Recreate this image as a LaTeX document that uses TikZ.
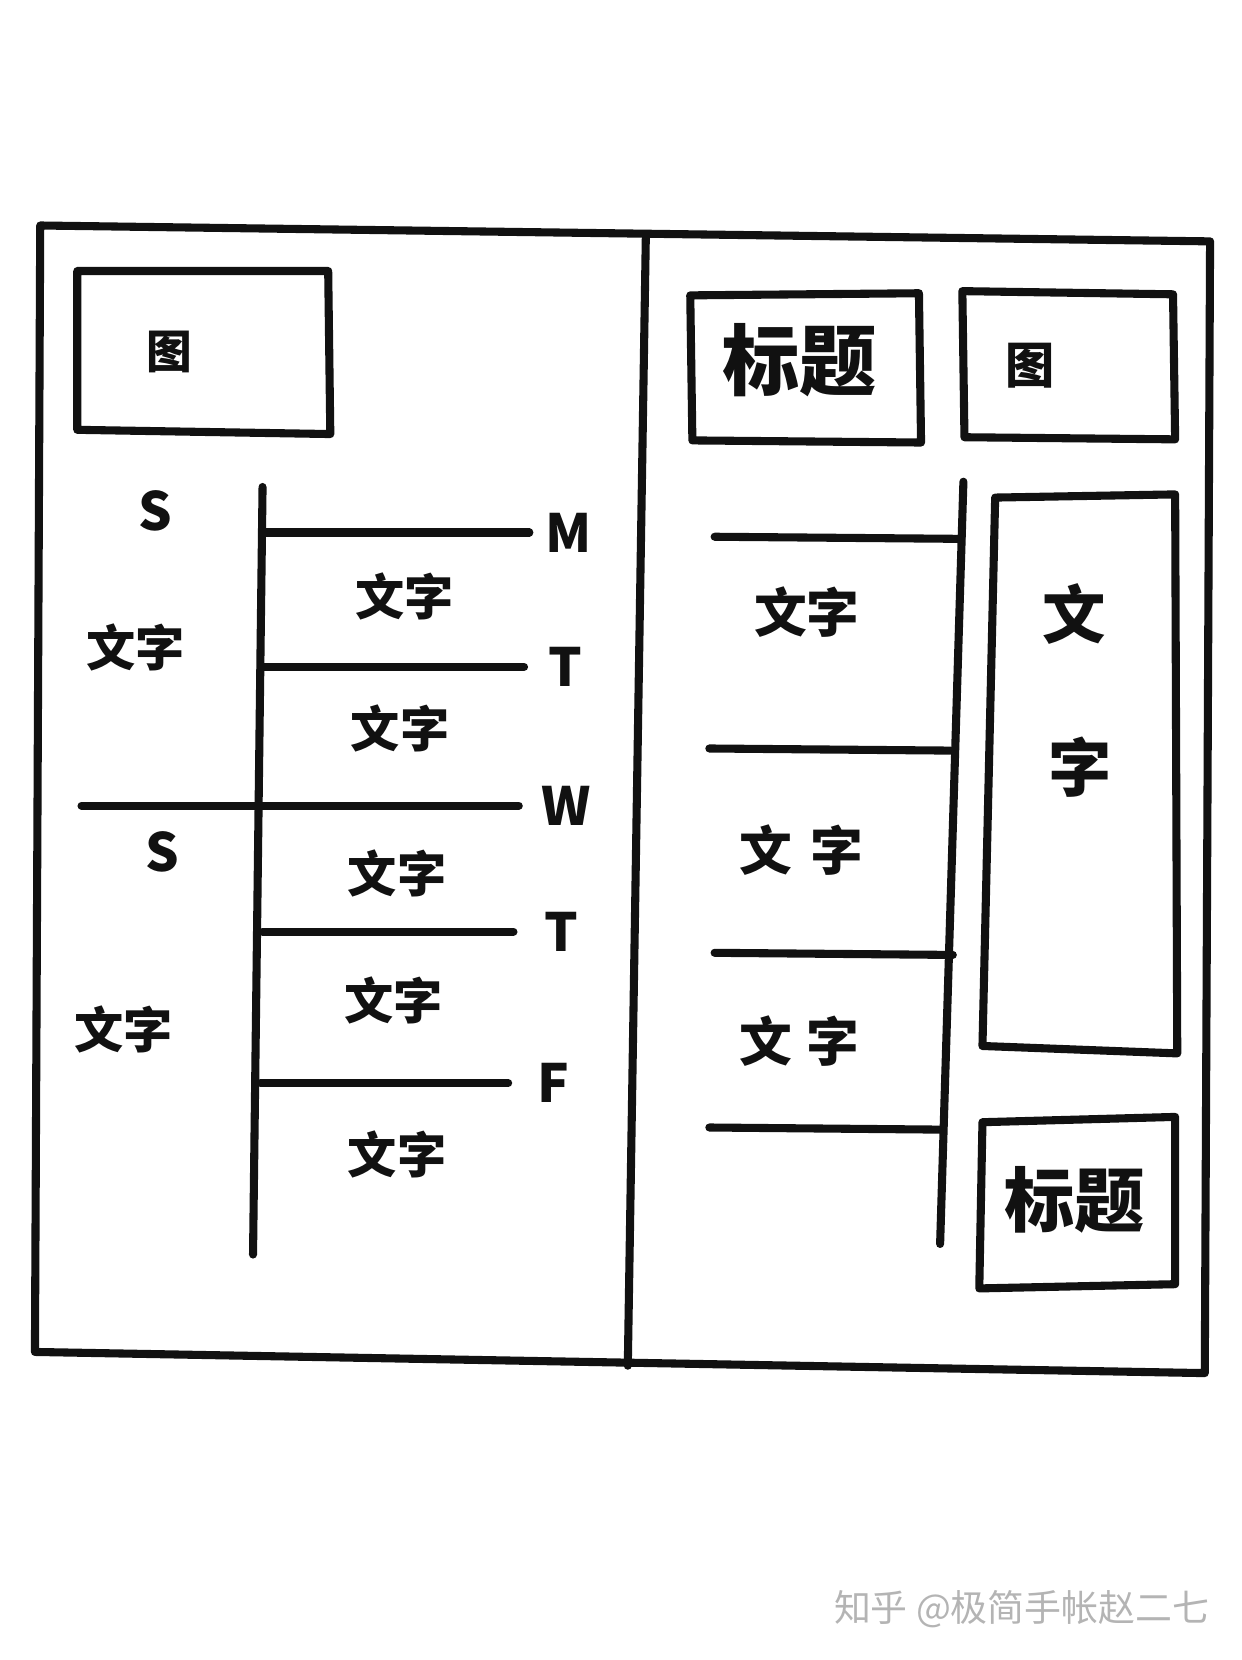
\documentclass[tikz,border=0pt]{standalone}
\usepackage{fontspec}
\newfontfamily\cjk{Noto Sans CJK SC}
\usepackage{xcolor}
\usetikzlibrary{positioning}
\definecolor{cInk}{HTML}{111111}
\definecolor{cMark}{HTML}{B4B4B4}
\tikzset{
  ink/.style={draw=cInk,line width=2.3pt,line cap=round,line join=round},
  zh/.style={font=\cjk\bfseries\fontsize{#1}{#1}\selectfont,text=cInk,inner sep=0pt},
  zh/.default=14pt,
  day/.style={font=\cjk\bfseries\fontsize{15pt}{15pt}\selectfont,text=cInk,inner sep=0pt},
}
\begin{document}
\begin{tikzpicture}[x=0.01059cm,y=-0.01059cm]
  \useasboundingbox (0,0) rectangle (1173,1568);
  % page frame and fold
  \draw[ink] (38,213) -- (1143,228) -- (1138,1297) -- (33,1277) -- cycle;
  \draw[ink] (610,225) -- (593,1290);
  % left page
  \draw[ink] (73,256) -- (310,256) -- (312,410) -- (73,406) -- cycle;
  \node[zh=13pt] (picL) at (160,332) {图};
  \coordinate (spL1) at (248,460);
  \coordinate (spL2) at (239,1185);
  \draw[ink] (spL1) -- (spL2);
  \foreach \y/\xa/\xb/\xd/\d/\i in {503/250/500/537/M/1,630/250/495/534/T/2,761/77/490/535/W/3,880/248/485/530/T/4,1023/246/480/523/F/5}{
    \coordinate (l\i) at (\xa,\y);
    \coordinate (r\i) at (\xb,\y);
    \draw[ink] (l\i) -- (r\i);
    \node[day] (d\i) at (\xd,\y) {\d};}
  \foreach \x/\y/\i in {382/563/1,378/688/2,375/825/3,372/945/4,375/1090/5}
    \node[zh=14pt] (t\i) at (\x,\y) {文字};
  \node[day] (s1) at (147,483) {S};
  \node[day] (s2) at (153,805) {S};
  \node[zh=14pt] (w1) at (128,612) {文字};
  \node[zh=14pt] (w2) at (117,972) {文字};
  % right page
  \draw[ink] (652,279) -- (868,277) -- (870,418) -- (654,416) -- cycle;
  \node[zh=22pt] (headA) at (755,340) {标题};
  \draw[ink] (909,275) -- (1108,278) -- (1110,415) -- (911,413) -- cycle;
  \node[zh=14pt] (picR) at (973,345) {图};
  \coordinate (spR1) at (910,455);
  \coordinate (spR2) at (888,1175);
  \draw[ink] (spR1) -- (spR2);
  \foreach \y/\xa/\xb/\i in {507/675/908/1,707/670/898/2,900/675/900/3,1065/670/888/4}
    \draw[ink] (\xa,\y) -- (\xb,\y+2);
  \node[zh=15pt] (n1) at (762,578) {文字};
  \node[zh=15pt] (n2) at (757,803) {文\hspace{5pt}字};
  \node[zh=15pt] (n3) at (755,983) {文\hspace{4pt}字};
  \draw[ink] (940,470) -- (1110,467) -- (1112,995) -- (928,988) -- cycle;
  \node[zh=18pt] (vA) at (1015,580) {文};
  \node[zh=18pt] (vB) at (1020,725) {字};
  \draw[ink] (928,1060) -- (1110,1055) -- (1110,1213) -- (925,1217) -- cycle;
  \node[zh=20pt] (headB) at (1015,1133) {标题};
  % watermark
  \node[font=\cjk\fontsize{10.5pt}{10.5pt}\selectfont,text=cMark,inner sep=0pt] (mark) at (965,1520) {知乎 @极简手帐赵二七};
\end{tikzpicture}
\end{document}
